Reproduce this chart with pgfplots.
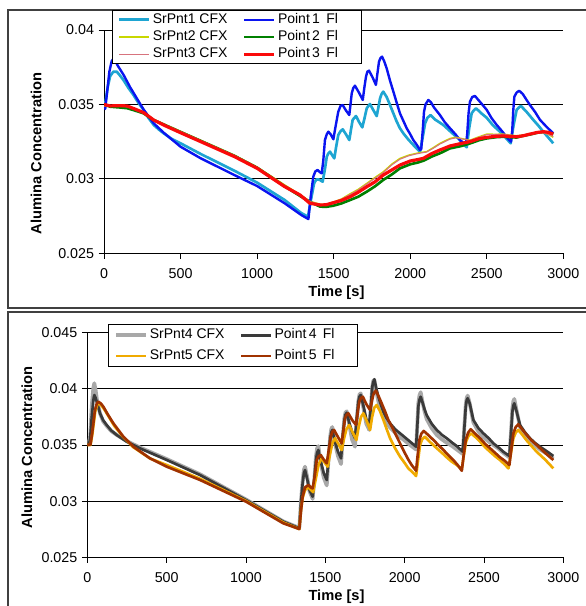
\documentclass[border=0pt]{standalone}
\usepackage{fontspec}
\setmainfont{Liberation Sans}
\usepackage{pgfplots}
\pgfplotsset{compat=1.18}

\definecolor{cfxone}{RGB}{30,165,210}
\definecolor{flone}{RGB}{10,20,240}
\definecolor{cfxtwo}{RGB}{200,215,0}
\definecolor{fltwo}{RGB}{0,128,0}
\definecolor{cfxthree}{RGB}{215,115,125}
\definecolor{flthree}{RGB}{250,10,10}
\definecolor{cfxfour}{RGB}{168,168,168}
\definecolor{flfour}{RGB}{58,58,58}
\definecolor{cfxfive}{RGB}{240,170,0}
\definecolor{flfive}{RGB}{160,50,0}

\pgfplotsset{
  alumina/.style={
    scale only axis,
    xmin=0, xmax=3000,
    scaled y ticks=false, scaled x ticks=false,
    axis x line*=bottom, axis y line*=left,
    tick align=outside, major tick length=4pt,
    xtick={0,500,1000,1500,2000,2500,3000},
    xticklabels={0,500,1000,1500,2000,2500,3000},
    xticklabel style={yshift=-3.5pt},
    ymajorgrids, grid style={black, line width=0.7pt},
    axis line style={black, line width=0.7pt},
    tick style={black, line width=0.7pt},
    tick label style={font=\fontsize{10.7}{12}\selectfont},
    label style={font=\fontsize{11}{13}\selectfont\bfseries},
    xlabel={Time [s]}, ylabel={Alumina Concentration},
    legend columns=2,
    legend image code/.code={\draw[#1] (0pt,0pt) -- (22.5pt,0pt);},
    legend style={draw=black, line width=0.8pt, anchor=north west,
      font=\fontsize{10.5}{12}\selectfont,
      nodes={inner ysep=1pt, inner xsep=1.5pt, text height=7.6pt, text depth=2.2pt},
      /tikz/every even column/.append style={column sep=9pt}},
    every axis plot/.append style={line join=round},
  },
}

\begin{document}
\begin{tikzpicture}
\useasboundingbox (0,0) rectangle (438.75pt,454.5pt);
\draw[black!75, line width=1pt] (6pt,447pt) rectangle (445pt,223.5pt);
\draw[black!75, line width=1pt] (6pt,220.5pt) rectangle (445pt,-5pt);

% top panel
\begin{axis}[alumina,
  at={(78pt,264.5pt)}, anchor=south west, width=344.5pt, height=167.5pt,
  ymin=0.025, ymax=0.04,
  ytick={0.025,0.03,0.035,0.04},
  yticklabels={0.025,0.03,0.035,0.04},
  xlabel style={at={(axis description cs:0.506,-0.176)}, anchor=center},
  ylabel style={at={(axis description cs:-0.148,0.447)}, anchor=center},
  legend style={at={(0.018,1.0896)}, row sep=1.2pt, inner ysep=1pt, inner xsep=4pt},
]
\addplot[cfxone, line width=2pt] coordinates {
(0,0.0349) (10,0.0352) (25,0.0362) (40,0.0369) (61,0.0372) (83,0.0372) (100,0.0370)
(127,0.03664) (160,0.0361) (193,0.03563) (225,0.0351) (259,0.03463) (290,0.0341)
(325,0.03362) (360,0.0333) (390,0.03306) (440,0.0327) (500,0.03239) (632,0.03167)
(851,0.03055) (1000,0.02975) (1180,0.02858) (1289,0.0277) (1332,0.02746)
(1350,0.0285) (1372,0.0297) (1386,0.02995) (1400,0.02997) (1414,0.0299) (1428,0.02981)
(1442,0.0306) (1455,0.03149) (1465,0.0317) (1476,0.03183) (1490,0.0316) (1504,0.03138)
(1517,0.0322) (1530,0.03295) (1545,0.0332) (1559,0.03333) (1580,0.0330) (1602,0.03261)
(1613,0.0333) (1624,0.03396) (1635,0.0341) (1646,0.03422) (1667,0.0338) (1687,0.03346)
(1702,0.0341) (1716,0.03474) (1727,0.0349) (1737,0.03503) (1760,0.0346) (1781,0.03422)
(1792,0.0348) (1803,0.03541) (1813,0.0357) (1824,0.03586) (1846,0.0355) (1868,0.03496)
(1890,0.0344) (1912,0.03384) (1933,0.0334) (1955,0.03306) (1983,0.0327) (2010,0.03239)
(2037,0.0321) (2064,0.03183) (2080,0.0327) (2097,0.03373) (2112,0.0341) (2133,0.03429)
(2160,0.0340) (2190,0.0338) (2216,0.03362) (2250,0.0333) (2281,0.03301) (2315,0.0327)
(2347,0.03234) (2369,0.03212) (2385,0.0334) (2401,0.0344) (2415,0.0346) (2430,0.03474)
(2465,0.0344) (2500,0.0341) (2540,0.0336) (2586,0.03317) (2620,0.0328) (2656,0.03239)
(2675,0.0336) (2695,0.03463) (2710,0.0348) (2723,0.0349) (2760,0.0345) (2804,0.03396)
(2835,0.0336) (2869,0.03317) (2900,0.0328) (2934,0.03239)
};
\addlegendentry{\makebox[57pt][l]{SrPnt1 CFX}}
\addplot[flone, line width=1.8pt] coordinates {
(0,0.0350) (8,0.0347) (20,0.0358) (35,0.0372) (50,0.0379) (60,0.03805) (75,0.0379)
(90,0.0376) (127,0.0370) (171,0.03615) (215,0.0354) (259,0.03465) (325,0.03373)
(390,0.0331) (500,0.03216) (632,0.03138) (851,0.03026) (1000,0.02952) (1180,0.02836)
(1289,0.02757) (1335,0.02730)
(1350,0.0288) (1367,0.03015) (1380,0.0305) (1395,0.0306) (1410,0.03045) (1422,0.03037)
(1432,0.0312) (1443,0.03261) (1455,0.0330) (1465,0.03317) (1480,0.0330) (1498,0.03266)
(1512,0.0335) (1530,0.03451) (1545,0.0349) (1559,0.03496) (1580,0.0346) (1602,0.03429)
(1610,0.0350) (1618,0.03575) (1628,0.0361) (1639,0.03626) (1665,0.0358) (1690,0.0353)
(1700,0.0361) (1711,0.03686) (1720,0.0372) (1731,0.03727) (1755,0.0368) (1776,0.03631)
(1786,0.0371) (1796,0.03787) (1805,0.0381) (1816,0.03821) (1830,0.0379) (1846,0.03743)
(1868,0.0366) (1890,0.03586) (1912,0.0351) (1933,0.0344) (1955,0.0339) (1977,0.0334)
(2000,0.0330) (2020,0.03261) (2042,0.0323) (2064,0.03194) (2072,0.0320) (2082,0.0333)
(2090,0.03451) (2100,0.0350) (2118,0.0353) (2135,0.03515) (2155,0.0348) (2194,0.03429)
(2226,0.0338) (2260,0.0334) (2295,0.0330) (2325,0.03261) (2350,0.0324) (2364,0.03234)
(2372,0.0330) (2381,0.0344) (2390,0.03518) (2405,0.0355) (2423,0.03557) (2445,0.0353)
(2470,0.0350) (2500,0.03463) (2530,0.0341) (2565,0.03362) (2600,0.0332) (2630,0.0328)
(2658,0.0325) (2666,0.0332) (2673,0.0346) (2680,0.03552) (2695,0.0358) (2712,0.03592)
(2735,0.0357) (2760,0.0353) (2782,0.03496) (2815,0.0345) (2848,0.03396) (2890,0.0335)
(2934,0.03306)
};
\addlegendentry{\makebox[57pt][l]{Point\,1\hspace{0.45em}Fl}}
\addplot[cfxtwo, line width=1pt] coordinates {
(0,0.0349) (40,0.0349) (100,0.03488) (150,0.03485) (200,0.0347) (259,0.03445)
(325,0.0340) (412,0.0336) (500,0.0332) (632,0.0326) (851,0.0316) (1000,0.0308)
(1180,0.0296) (1289,0.0289) (1345,0.0285) (1411,0.0283) (1450,0.02828) (1498,0.02845)
(1550,0.02865) (1607,0.029) (1660,0.0293) (1716,0.0297) (1770,0.0301) (1824,0.03048)
(1880,0.031) (1933,0.03138) (1990,0.0316) (2041,0.03172) (2070,0.03178) (2107,0.03183)
(2150,0.0321) (2194,0.03239) (2260,0.03272) (2300,0.0328) (2340,0.0327) (2390,0.0326)
(2440,0.0328) (2500,0.03301) (2560,0.0330) (2608,0.03301) (2650,0.03295) (2695,0.0329)
(2740,0.03295) (2782,0.03301) (2830,0.03308) (2869,0.0331) (2900,0.033) (2934,0.03279)
};
\addlegendentry{\makebox[57pt][l]{SrPnt2 CFX}}
\addplot[fltwo, line width=2pt] coordinates {
(0,0.0350) (40,0.03485) (100,0.0348) (150,0.03475) (200,0.0346) (259,0.0344)
(325,0.03395) (412,0.03355) (500,0.03315) (632,0.03255) (851,0.03155) (1000,0.03075)
(1180,0.0295) (1289,0.0288) (1345,0.02845) (1411,0.02814) (1450,0.02812) (1498,0.0282)
(1550,0.02835) (1607,0.02858) (1660,0.0288) (1716,0.02914) (1770,0.0295) (1824,0.02993)
(1880,0.0303) (1933,0.03071) (2000,0.03098) (2050,0.0311) (2086,0.03122) (2140,0.0315)
(2194,0.03172) (2260,0.03205) (2330,0.0322) (2390,0.03238) (2450,0.0326) (2500,0.03272)
(2560,0.0328) (2608,0.03283) (2650,0.0328) (2695,0.03278) (2740,0.0329) (2782,0.03298)
(2830,0.0331) (2869,0.03315) (2900,0.0331) (2934,0.033)
};
\addlegendentry{\makebox[57pt][l]{Point\,2\hspace{0.45em}Fl}}
\addplot[cfxthree, line width=0.8pt] coordinates {
(0,0.0349) (40,0.0349) (100,0.03488) (150,0.03484) (200,0.0347) (259,0.03443)
(325,0.03398) (412,0.03357) (500,0.03318) (632,0.03258) (851,0.03158) (1000,0.03078)
(1180,0.02955) (1289,0.02888) (1345,0.02848) (1411,0.02828) (1450,0.02826) (1498,0.02842)
(1550,0.02862) (1607,0.02895) (1660,0.02925) (1716,0.02965) (1770,0.03004) (1824,0.03042)
(1880,0.03094) (1933,0.03132) (1990,0.03155) (2041,0.03168) (2070,0.03174) (2107,0.0318)
(2150,0.03205) (2194,0.03234) (2260,0.03267) (2300,0.03276) (2340,0.03268) (2390,0.03258)
(2440,0.03276) (2500,0.03297) (2560,0.03298) (2608,0.03299) (2650,0.03293) (2695,0.03288)
(2740,0.03293) (2782,0.033) (2830,0.03307) (2869,0.03309) (2900,0.033) (2934,0.03285)
};
\addlegendentry{\makebox[57pt][l]{SrPnt3 CFX}}
\addplot[flthree, line width=2.4pt] coordinates {
(0,0.0350) (40,0.0349) (100,0.03492) (150,0.0349) (200,0.0347) (259,0.03445)
(325,0.03395) (412,0.03351) (500,0.0331) (632,0.0325) (851,0.0315) (1000,0.03071)
(1180,0.02948) (1280,0.02892) (1345,0.02836) (1411,0.02825) (1450,0.02826) (1498,0.0284)
(1550,0.02855) (1607,0.0288) (1660,0.0291) (1716,0.02947) (1770,0.0298) (1824,0.03026)
(1880,0.0306) (1933,0.03093) (2000,0.0312) (2050,0.0313) (2086,0.03138) (2140,0.0317)
(2194,0.03194) (2260,0.03221) (2320,0.03235) (2390,0.0325) (2450,0.0327) (2500,0.03279)
(2560,0.03286) (2608,0.03288) (2650,0.03285) (2695,0.03283) (2740,0.0329) (2782,0.03301)
(2830,0.03312) (2869,0.03317) (2900,0.03313) (2934,0.03301)
};
\addlegendentry{\makebox[57pt][l]{Point\,3\hspace{0.45em}Fl}}
\end{axis}

% bottom panel
\begin{axis}[alumina,
  at={(65.5pt,36.5pt)}, anchor=south west, width=357pt, height=168.5pt,
  ymin=0.025, ymax=0.045,
  ytick={0.025,0.03,0.035,0.04,0.045},
  yticklabels={0.025,0.03,0.035,0.04,0.045},
  xlabel style={at={(axis description cs:0.5235,-0.1745)}, anchor=center},
  ylabel style={at={(axis description cs:-0.127,0.489)}, anchor=center},
  legend style={at={(0.044,1.037)}, row sep=3.8pt, inner ysep=1.9pt, inner xsep=4pt},
]
\addplot[cfxfour, line width=2.8pt] coordinates {
(0,0.0350) (10,0.0352) (18,0.0358) (28,0.0385) (38,0.0401) (44,0.0405) (52,0.0399)
(60,0.0391) (80,0.0378) (100,0.0371) (122,0.0367) (150,0.03625) (185,0.0359)
(248,0.03535) (332,0.03478) (500,0.03375) (710,0.0324) (1000,0.03015) (1235,0.0282)
(1336,0.02762)
(1347,0.0301) (1357,0.0318) (1365,0.0328) (1372,0.03307) (1385,0.0322) (1400,0.0309)
(1420,0.0302) (1430,0.0318) (1441,0.0340) (1448,0.0347) (1456,0.0349) (1470,0.0335)
(1490,0.0321) (1509,0.0314) (1520,0.0337) (1530,0.0357) (1537,0.0364) (1544,0.0366)
(1560,0.0352) (1580,0.0340) (1599,0.0333) (1610,0.0357) (1620,0.0374) (1627,0.0379)
(1635,0.0380) (1650,0.0369) (1668,0.0355) (1687,0.03485) (1698,0.0372) (1708,0.0389)
(1715,0.0395) (1723,0.0396) (1740,0.0383) (1758,0.0369) (1777,0.03634) (1787,0.0384)
(1796,0.0402) (1802,0.0407) (1809,0.0408) (1820,0.0399) (1834,0.0389) (1850,0.0381)
(1866,0.0375) (1886,0.0370) (1908,0.03655) (1940,0.0361) (1971,0.0357) (2000,0.0354)
(2034,0.0350) (2072,0.0346) (2080,0.0369) (2086,0.0387) (2093,0.0394) (2101,0.0397)
(2110,0.0390) (2125,0.0380) (2139,0.0373) (2170,0.0365) (2202,0.0359) (2235,0.0355)
(2265,0.0352) (2300,0.0349) (2328,0.0346) (2366,0.0342) (2376,0.0366) (2385,0.0386)
(2391,0.0392) (2397,0.0394) (2410,0.0387) (2433,0.0370) (2465,0.0362) (2496,0.0357)
(2530,0.0353) (2559,0.0350) (2590,0.0347) (2622,0.0343) (2660,0.0339) (2670,0.0361)
(2679,0.0383) (2685,0.0389) (2691,0.0391) (2705,0.0381) (2727,0.0366) (2760,0.0359)
(2790,0.0354) (2820,0.0350) (2853,0.0346) (2900,0.0342) (2937,0.0338)
};
\addlegendentry{\makebox[57pt][l]{SrPnt4 CFX}}
\addplot[flfour, line width=2pt] coordinates {
(0,0.0350) (10,0.0351) (17,0.03545) (28,0.0375) (38,0.0390) (44,0.03945) (52,0.0392)
(59,0.03886) (80,0.03782) (100,0.0372) (122,0.03678) (150,0.0363) (185,0.03589)
(248,0.0353) (332,0.0347) (500,0.03367) (710,0.03233) (1000,0.0301) (1235,0.02818)
(1336,0.02758)
(1347,0.0300) (1357,0.03159) (1365,0.0325) (1372,0.03277) (1385,0.0320) (1400,0.0310)
(1420,0.0304) (1430,0.0318) (1441,0.03367) (1448,0.0343) (1456,0.03455) (1470,0.0336)
(1490,0.0325) (1509,0.03188) (1520,0.0338) (1530,0.03544) (1537,0.0361) (1544,0.03634)
(1560,0.0353) (1580,0.0344) (1599,0.03381) (1610,0.0358) (1620,0.03723) (1627,0.0377)
(1635,0.03788) (1650,0.0370) (1668,0.0362) (1687,0.0356) (1698,0.0374) (1708,0.03886)
(1715,0.0393) (1723,0.03945) (1740,0.0385) (1758,0.0373) (1777,0.03678) (1787,0.0385)
(1796,0.04019) (1802,0.0406) (1809,0.04085) (1820,0.0401) (1834,0.0393) (1850,0.0386)
(1866,0.03797) (1886,0.0374) (1908,0.03693) (1940,0.0364) (1971,0.03604) (2000,0.0357)
(2034,0.0353) (2072,0.03485) (2080,0.0368) (2086,0.03841) (2093,0.0390) (2101,0.0393)
(2110,0.0389) (2125,0.0382) (2139,0.03765) (2170,0.0369) (2202,0.03634) (2235,0.0359)
(2265,0.0356) (2300,0.0352) (2328,0.03491) (2366,0.0344) (2376,0.0365) (2385,0.03841)
(2391,0.0390) (2397,0.03916) (2410,0.0387) (2433,0.03723) (2465,0.0365) (2496,0.03604)
(2530,0.0356) (2559,0.03515) (2590,0.0348) (2622,0.0344) (2660,0.03402) (2670,0.0360)
(2679,0.03797) (2685,0.0385) (2691,0.03871) (2705,0.0380) (2727,0.03678) (2760,0.0361)
(2790,0.0356) (2820,0.0352) (2853,0.03485) (2900,0.0344) (2937,0.03402)
};
\addlegendentry{\makebox[57pt][l]{Point\,4\hspace{0.45em}Fl}}
\addplot[cfxfive, line width=2pt] coordinates {
(0,0.0350) (20,0.0350) (32,0.0360) (50,0.0380) (63,0.0386) (75,0.0387) (90,0.0385)
(110,0.0381) (140,0.0374) (170,0.0367) (227,0.0357) (290,0.0348) (395,0.0338)
(500,0.03322) (710,0.032) (1000,0.03002) (1235,0.0281) (1336,0.02752)
(1347,0.0293) (1357,0.0303) (1372,0.0310) (1393,0.03123) (1410,0.0310) (1423,0.0308)
(1440,0.0320) (1458,0.0333) (1477,0.03381) (1497,0.0334) (1515,0.03307) (1530,0.0342)
(1545,0.0352) (1561,0.0356) (1582,0.0351) (1603,0.03455) (1618,0.0356) (1633,0.0364)
(1650,0.03678) (1673,0.0361) (1696,0.03545) (1710,0.0366) (1725,0.0375) (1740,0.03782)
(1762,0.0371) (1782,0.03634) (1795,0.0375) (1808,0.0383) (1824,0.03856) (1845,0.0380)
(1866,0.03723) (1887,0.0364) (1908,0.0356) (1940,0.0347) (1971,0.03396) (2000,0.0334)
(2023,0.03292) (2048,0.0326) (2072,0.03224) (2085,0.0337) (2097,0.035) (2110,0.0355)
(2127,0.03574) (2165,0.0352) (2202,0.03471) (2235,0.0343) (2265,0.0339) (2298,0.0335)
(2328,0.03322) (2360,0.03284) (2373,0.0341) (2387,0.0353) (2402,0.0358) (2418,0.03604)
(2447,0.0357) (2475,0.0353) (2507,0.0348) (2538,0.0344) (2570,0.0340) (2601,0.03366)
(2628,0.0333) (2654,0.03292) (2670,0.0343) (2685,0.0356) (2700,0.0361) (2716,0.03634)
(2742,0.0359) (2769,0.0354) (2800,0.0349) (2832,0.0344) (2885,0.0337) (2937,0.03292)
};
\addlegendentry{\makebox[57pt][l]{SrPnt5 CFX}}
\addplot[flfive, line width=2pt] coordinates {
(0,0.0350) (20,0.03505) (30,0.0360) (48,0.03812) (60,0.0387) (69,0.03886) (85,0.0387)
(101,0.03841) (130,0.0377) (164,0.03693) (227,0.03574) (290,0.03485) (395,0.03381)
(500,0.03307) (710,0.03189) (1000,0.02996) (1235,0.02803) (1336,0.02752)
(1347,0.0292) (1357,0.0304) (1372,0.03123) (1393,0.03144) (1410,0.0312) (1420,0.03114)
(1433,0.0322) (1446,0.03367) (1458,0.0340) (1471,0.03411) (1490,0.0337) (1509,0.03337)
(1522,0.0346) (1534,0.03574) (1545,0.0362) (1555,0.03634) (1580,0.0357) (1603,0.03515)
(1614,0.0363) (1624,0.03738) (1635,0.0377) (1645,0.03782) (1670,0.0372) (1694,0.03678)
(1704,0.0379) (1714,0.03886) (1725,0.0392) (1736,0.0393) (1760,0.0386) (1782,0.03812)
(1792,0.0388) (1802,0.03945) (1810,0.0397) (1819,0.03984) (1837,0.0393) (1855,0.03871)
(1876,0.0380) (1897,0.03723) (1924,0.0365) (1950,0.03574) (1976,0.0350) (2002,0.03426)
(2023,0.0337) (2044,0.03322) (2072,0.03271) (2082,0.0341) (2093,0.03545) (2105,0.0360)
(2120,0.03625) (2140,0.0360) (2181,0.03545) (2212,0.0350) (2244,0.03456) (2275,0.0341)
(2307,0.03366) (2335,0.0332) (2360,0.03271) (2372,0.0341) (2385,0.03545) (2400,0.0361)
(2416,0.0364) (2445,0.0360) (2475,0.0356) (2507,0.0351) (2538,0.03471) (2570,0.0343)
(2601,0.0339) (2630,0.0336) (2660,0.03322) (2672,0.0346) (2685,0.03604) (2700,0.0366)
(2716,0.03684) (2740,0.0364) (2769,0.0359) (2800,0.0354) (2832,0.035) (2885,0.0343)
(2937,0.03366)
};
\addlegendentry{\makebox[57pt][l]{Point\,5\hspace{0.45em}Fl}}
\end{axis}
\end{tikzpicture}
\end{document}
